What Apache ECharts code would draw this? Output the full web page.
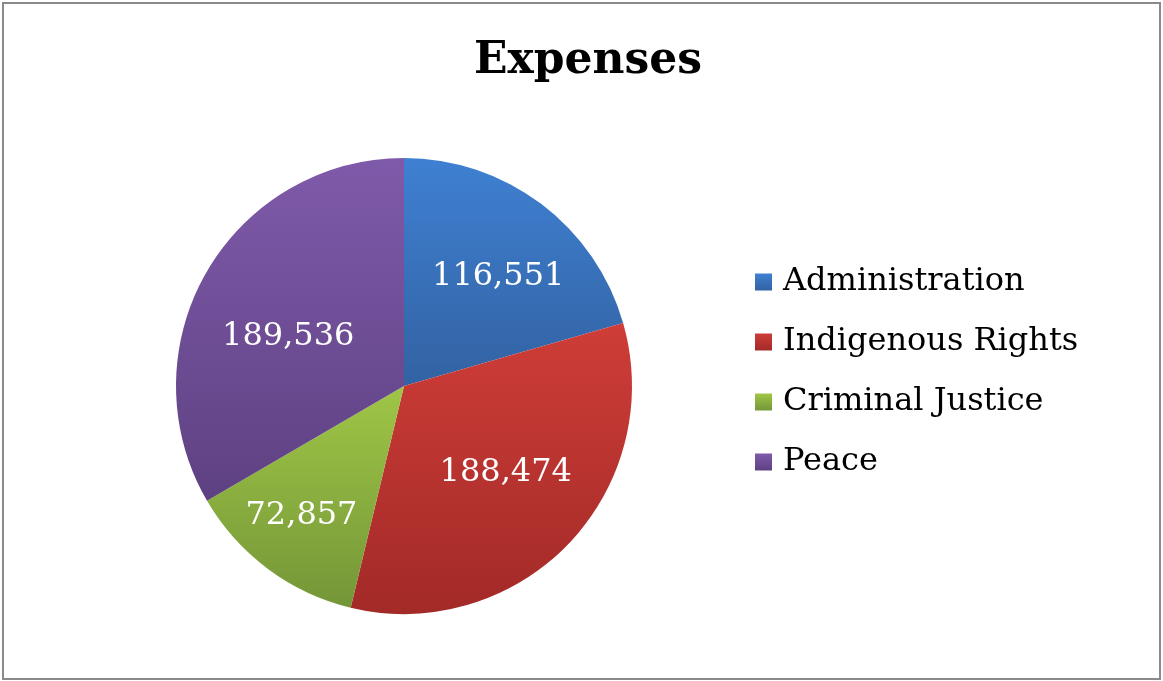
<!DOCTYPE html>
<html>
<head>
<meta charset="utf-8">
<script src="https://cdn.jsdelivr.net/npm/echarts@6/dist/echarts.min.js"></script>
<style>
html,body{margin:0;padding:0;background:#fff;}
#chart{width:1163px;height:681px;}
</style>
</head>
<body>
<div id="chart"></div>
<script>
const categories = ['Administration', 'Indigenous Rights', 'Criminal Justice', 'Peace'];
const values = [116551, 188474, 72857, 189536];
const titleText = 'Expenses';

const gradients = [
  ['#3f80d2', '#3262a2'],
  ['#cf3d38', '#a22a27'],
  ['#9fc646', '#749638'],
  ['#7f5aaa', '#5e4182']
];
// small label nudges to mimic the original label placement
const labelNudges = [[7, 7], [-3, -14], [-16, 13], [10, 23]];
const serif = "'DejaVu Serif', 'Liberation Serif', serif";

function grad(c) {
  return { type: 'linear', x: 0, y: 0, x2: 0, y2: 1,
    colorStops: [{ offset: 0, color: c[0] }, { offset: 1, color: c[1] }] };
}

const pieData = categories.map((n, i) => ({ name: n, value: values[i], itemStyle: { color: grad(gradients[i]) } }));
const labelData = categories.map((n, i) => ({ name: n, value: values[i], label: { offset: labelNudges[i] } }));

const chart = echarts.init(document.getElementById('chart'));
chart.setOption({
  animation: false,
  backgroundColor: '#fff',
  title: {
    text: titleText, left: 583, top: 35, textAlign: 'center',
    textStyle: { fontFamily: serif, fontWeight: 'bold', fontSize: 44, color: '#000' }
  },
  legend: {
    orient: 'vertical', left: 755, top: 266, padding: 0,
    data: categories,
    icon: 'rect', itemWidth: 17, itemHeight: 17, itemGap: 28,
    textStyle: { fontFamily: serif, fontSize: 32, color: '#000', lineHeight: 32, padding: [0, 0, 0, 6] }
  },
  graphic: [{
    type: 'rect', shape: { x: 3, y: 3, width: 1157, height: 676 },
    style: { fill: 'none', stroke: '#8a8a8a', lineWidth: 2 }, silent: true
  }],
  series: [
    {
      type: 'pie', center: [404, 386], radius: [0, 228], startAngle: 90, clockwise: true,
      data: pieData, label: { show: false }, labelLine: { show: false },
      itemStyle: { borderWidth: 0 }, emphasis: { disabled: true }
    },
    {
      type: 'pie', center: [404, 386], radius: [0, 284], startAngle: 90, clockwise: true,
      data: labelData, silent: true, legendHoverLink: false,
      itemStyle: { color: 'rgba(0,0,0,0)' },
      label: {
        show: true, position: 'inside', color: '#fff', fontFamily: serif, fontSize: 32,
        formatter: p => p.value.toLocaleString('en-US')
      },
      labelLine: { show: false }, emphasis: { disabled: true }
    }
  ]
});
</script>
</body>
</html>
